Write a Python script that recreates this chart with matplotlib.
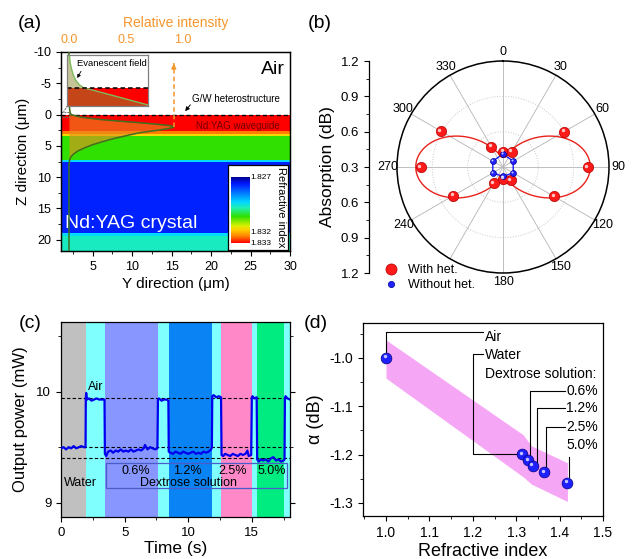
import numpy as np
import matplotlib
matplotlib.use('Agg')
import matplotlib.pyplot as plt
from matplotlib.colors import LinearSegmentedColormap, Normalize
from matplotlib.patches import Rectangle
from matplotlib.lines import Line2D
from matplotlib.ticker import AutoMinorLocator
from matplotlib.transforms import offset_copy

plt.rcParams['font.family'] = ['Liberation Sans', 'DejaVu Sans']
plt.rcParams['xtick.direction'] = 'out'
plt.rcParams['ytick.direction'] = 'out'
plt.rcParams['axes.linewidth'] = 0.9
plt.rcParams['axes.unicode_minus'] = False

# ---------- (a) waveguide index profile + mode ----------
layer_edges = [0, 2.7, 3.1, 3.35, 7.3, 7.6, 19.0, 19.35, 21.8]
layer_index = [1.833, 1.8324, 1.8317, 1.8306, 1.8293, 1.8277, 1.8293, 1.8297]
y_range = [1, 30]
mode_z = [-10, -3, -1, -0.3, 0, 0.4, 0.8, 1.2, 1.5, 1.8, 2.0, 2.2, 2.5, 2.9,
          3.3, 3.8, 4.3, 4.8, 5.3, 5.8, 6.3, 6.8, 7.3, 8.0, 21.8]
mode_I = [0, 0, 0.005, 0.01, 0.02, 0.10, 0.28, 0.55, 0.75, 0.90, 0.92, 0.88, 0.78, 0.62,
          0.52, 0.40, 0.30, 0.21, 0.14, 0.08, 0.04, 0.015, 0.005, 0, 0]
evan_z = [0.0, 0.1, 0.2, 0.3, 0.4, 0.5, 0.58, 0.64, 0.8, 0.98, 1.0]
evan_I = [0.03, 0.035, 0.045, 0.06, 0.08, 0.11, 0.15, 0.2, 0.58, 1.0, 1.0]
index_min, index_max = 1.827, 1.833
cbar_ticks = [1.827, 1.832, 1.833]

# ---------- (b) polar absorption ----------
angles_het = [0, 30, 60, 90, 120, 150, 180, 210, 240, 270, 300, 330]
absorb_het = [0.43, 0.45, 0.90, 1.02, 0.80, 0.43, 0.40, 0.46, 0.79, 1.00, 0.91, 0.50]
angles_bare = [0, 60, 120, 180, 240, 300]
absorb_bare = [0.41, 0.40, 0.40, 0.38, 0.40, 0.40]
r_lim = [0.3, 1.2]
r_ticks = [0.3, 0.6, 0.9, 1.2]

# ---------- (c) output power vs time ----------
band_edges = [0, 1.95, 3.45, 7.6, 8.5, 11.87, 12.6, 15.0, 15.42, 17.55, 18.0]
band_colors = ['#c0c0c0', '#80ffff', '#8896ff', '#80ffff', '#0a84f5',
               '#80ffff', '#ff88c8', '#80ffff', '#00eb80', '#80ffff']
t_trace = [0.0, 0.2, 0.4, 0.6, 0.8, 1.0, 1.2, 1.4, 1.6, 1.8, 1.93,
           1.95, 1.98, 2.05, 2.2, 2.4, 2.6, 2.8, 3.0, 3.2, 3.42,
           3.45, 3.55, 3.7, 3.9, 4.1, 4.3, 4.5, 4.7, 4.9, 5.1, 5.3, 5.5, 5.7, 5.9,
           6.1, 6.3, 6.5, 6.6, 6.8, 7.0, 7.2, 7.4, 7.58,
           7.62, 7.7, 7.9, 8.1, 8.3, 8.44,
           8.47, 8.6, 8.8, 9.0, 9.2, 9.4, 9.6, 9.8, 10.0, 10.2, 10.4, 10.6, 10.8,
           11.0, 11.2, 11.4, 11.6, 11.8, 11.86,
           11.89, 12.0, 12.2, 12.4, 12.58,
           12.62, 12.75, 12.9, 13.1, 13.3, 13.5, 13.7, 13.9, 14.1, 14.3, 14.5, 14.65, 14.75, 14.95,
           15.0, 15.05, 15.2, 15.38,
           15.42, 15.55, 15.7, 15.9, 16.1, 16.3, 16.5, 16.7, 16.9, 17.1, 17.3, 17.5, 17.57,
           17.6, 17.65, 17.8, 18.0]
p_trace = [9.49, 9.50, 9.48, 9.50, 9.49, 9.51, 9.49, 9.50, 9.51, 9.50, 9.50,
           9.95, 9.99, 9.93, 9.94, 9.92, 9.93, 9.94, 9.93, 9.93, 9.93,
           9.44, 9.42, 9.46, 9.47, 9.45, 9.47, 9.46, 9.48, 9.46, 9.47, 9.46, 9.48, 9.46, 9.47,
           9.48, 9.47, 9.49, 9.52, 9.48, 9.50, 9.49, 9.48, 9.49,
           9.93, 9.94, 9.92, 9.93, 9.93, 9.92,
           9.46, 9.45, 9.44, 9.46, 9.45, 9.44, 9.46, 9.45, 9.44, 9.45, 9.46, 9.44, 9.45,
           9.44, 9.46, 9.45, 9.46, 9.48, 9.50,
           9.96, 9.97, 9.95, 9.96, 9.95,
           9.43, 9.42, 9.44, 9.43, 9.42, 9.44, 9.43, 9.42, 9.44, 9.43, 9.44, 9.47, 9.42, 9.43,
           9.95, 9.96, 9.94, 9.95,
           9.39, 9.37, 9.39, 9.38, 9.39, 9.37, 9.40, 9.41, 9.38, 9.39, 9.37, 9.38, 9.39,
           9.94, 9.96, 9.94, 9.93]
ref_levels = [9.94, 9.50, 9.40]
conc_labels = ['0.6%', '1.2%', '2.5%', '5.0%']
conc_t = [5.9, 9.9, 13.5, 16.6]

# ---------- (d) alpha vs refractive index ----------
n_vals = [1.0, 1.314, 1.327, 1.338, 1.365, 1.418]
alpha_vals = [-1.0, -1.199, -1.211, -1.223, -1.237, -1.258]
band_n = [1.0, 1.316, 1.335, 1.418]
band_hi = [-0.963, -1.159, -1.182, -1.217]
band_lo = [-1.042, -1.246, -1.261, -1.297]

fig = plt.figure(figsize=(6.35, 5.59), dpi=100)
W, H = 635.0, 559.0


def px_axes(l, t, r, b, **kw):
    return fig.add_axes([l / W, 1 - b / H, (r - l) / W, (b - t) / H], **kw)


def balls(ax, x, y, color, edge, s, hs, off=1.0, **kw):
    ax.scatter(x, y, s=s, c=color, edgecolors=edge, linewidths=0.5, zorder=5, clip_on=False, **kw)
    tr = offset_copy(ax.transData, fig=fig, x=-off, y=off, units='points')
    ax.scatter(x, y, s=hs, c='white', alpha=0.75, linewidths=0, transform=tr, zorder=6, clip_on=False)


cmap = LinearSegmentedColormap.from_list('ri', [
    (0.0, '#000090'), (0.1, '#0018ff'), (0.38, '#00d8ff'), (0.47, '#20f0b0'),
    (0.6, '#30e000'), (0.74, '#d8f000'), (0.8, '#ffd000'), (0.9, '#ff8000'),
    (1.0, '#ff0000')])
norm = Normalize(index_min, index_max)

# ===== panel (a) =====
ax_a = px_axes(61, 52, 290, 251)
vals = np.array(layer_index).reshape(-1, 1)
ax_a.pcolormesh(y_range, layer_edges, vals, cmap=cmap, norm=norm, shading='flat')
ax_a.set_xlim(1, 30)
ax_a.set_ylim(21.8, -10)
ax_a.set_xticks([5, 10, 15, 20, 25, 30])
ax_a.set_yticks([-10, -5, 0, 5, 10, 15, 20])
ax_a.xaxis.set_minor_locator(AutoMinorLocator(2))
ax_a.yaxis.set_minor_locator(AutoMinorLocator(2))
ax_a.tick_params(labelsize=9, length=3.5)
ax_a.tick_params(which='minor', length=2)
ax_a.set_xlabel('Y direction (\u03bcm)', fontsize=11, labelpad=3)
ax_a.set_ylabel('Z direction (\u03bcm)', fontsize=11, labelpad=2)
ax_a.axhline(0, color='black', ls=(0, (3, 2)), lw=1.0, zorder=4)
ax_a.text(29.4, -7.2, 'Air', fontsize=14, ha='right', va='center')
ax_a.text(23.2, -2.5, 'G/W heterostructure', fontsize=7, ha='center', va='center')
ax_a.annotate('', xy=(16.5, -0.2), xytext=(17.6, -1.9),
              arrowprops=dict(arrowstyle='-|>', color='black', lw=0.7, mutation_scale=6))
ax_a.text(23.4, 1.75, 'Nd:YAG waveguide', fontsize=7, ha='center', va='center', color='#700000', zorder=6)
ax_a.text(1.5, 17.4, 'Nd:YAG crystal', fontsize=14, color='white', ha='left', va='center')
ax_a.add_patch(Rectangle((1.05, -0.35), 0.9, 0.7, fill=False, ec='#707070', ls=(0, (2, 1)), lw=0.7, zorder=6))
ax_a.plot([1.3, 1.8], [-0.35, -1.4], color='#707070', ls=(0, (2, 1)), lw=0.7, zorder=6)

ax_t = ax_a.twiny()
ax_t.set_xlim(-0.07, 1.94)
ax_t.fill_betweenx(mode_z, 0, mode_I, color='#e98c23', alpha=0.62, lw=0, zorder=2)
ax_t.plot(mode_I, mode_z, color='#3f6f1e', lw=1.1, zorder=3)
peak = max(mode_I)
peak_z = mode_z[mode_I.index(peak)]
ax_t.plot([peak, peak], [peak_z, -8.0], color='#f5962a', ls=(0, (3, 2)), lw=1.1, zorder=3)
ax_t.annotate('', xy=(peak, -8.6), xytext=(peak, -7.6),
              arrowprops=dict(arrowstyle='-|>', color='#f5962a', lw=1.0, mutation_scale=7))
ax_t.set_xticks([0.0, 0.5, 1.0])
ax_t.set_xticklabels(['0.0', '0.5', '1.0'])
ax_t.tick_params(axis='x', colors='#f5962a', labelsize=9, length=0, pad=4)
ax_t.set_xlabel('Relative intensity', fontsize=10, color='#f5962a', labelpad=5)
ax_t.spines['top'].set_color('black')

# inset
ax_in = px_axes(67, 55, 148, 106)
ax_in.axhspan(0.64, 1.0, color='#ff0000', lw=0)
ax_in.fill_betweenx(evan_z, 0, evan_I, color='#8a8a30', alpha=0.5, lw=0)
ax_in.plot(evan_I, evan_z, color='#7cbc5a', lw=1.0)
ax_in.axhline(0.64, color='black', ls=(0, (3, 2)), lw=1.1)
ax_in.set_xlim(0, 1)
ax_in.set_ylim(1, 0)
ax_in.set_xticks([])
ax_in.set_yticks([])
for s in ax_in.spines.values():
    s.set_color('#808080')
    s.set_linewidth(0.9)
ax_in.text(0.56, 0.84, 'Evanescent field', fontsize=6.8, ha='center', va='center', transform=ax_in.transAxes)
ax_in.annotate('', xy=(0.11, 0.5), xytext=(0.19, 0.27),
               arrowprops=dict(arrowstyle='-|>', color='black', lw=0.6, mutation_scale=5))

# colour bar box
ax_cb_box = px_axes(228, 165, 288, 250)
ax_cb_box.set_xticks([])
ax_cb_box.set_yticks([])
ax_cb_box.set_facecolor('white')
ax_cb = px_axes(231, 177, 249, 243)
grad = np.linspace(index_min, index_max, 256).reshape(-1, 1)
ax_cb.imshow(grad, cmap=cmap, norm=norm, aspect='auto',
             extent=[0, 1, index_max, index_min])
ax_cb.set_ylim(index_max, index_min)
ax_cb.set_xticks([])
ax_cb.set_yticks(cbar_ticks)
ax_cb.set_yticklabels(['%.3f' % v for v in cbar_ticks])
ax_cb.yaxis.tick_right()
ax_cb.tick_params(axis='y', labelsize=6, length=0, pad=1)
for s in ax_cb.spines.values():
    s.set_visible(False)
fig.text(281 / W, 1 - 207 / H, 'Refractive index', rotation=270, fontsize=8, ha='center', va='center')

# ===== panel (b) =====
ax_b = px_axes(397, 61, 609, 273, projection='polar')
ax_b.set_theta_zero_location('N')
ax_b.set_theta_direction(-1)
th_fit = np.radians(np.linspace(0, 360, 361))
th_h = np.radians(angles_het)
A = np.column_stack([np.ones_like(th_h), np.sin(th_h) ** 2, np.sin(th_h) ** 4])
coef = np.linalg.lstsq(A, np.array(absorb_het), rcond=None)[0]
r_fit = coef[0] + coef[1] * np.sin(th_fit) ** 2 + coef[2] * np.sin(th_fit) ** 4
ax_b.plot(th_fit, r_fit, color='#e8221c', lw=1.0, zorder=3)
th_b = np.radians(angles_bare + angles_bare[:1])
ax_b.plot(th_b, absorb_bare + absorb_bare[:1], color='#1a1aff', lw=1.0, zorder=3)
balls(ax_b, th_h, absorb_het, '#ff1a1a', '#b00000', 55, 6)
balls(ax_b, np.radians(angles_bare), absorb_bare, '#2222ff', '#000090', 18, 2, off=0.6)
ax_b.set_rmin(r_lim[0])
ax_b.set_rmax(r_lim[1])
ax_b.set_rgrids([0.6, 0.9], labels=['', ''])
theta_labels = [str(a) if a != 210 else '' for a in range(0, 360, 30)]
ax_b.set_thetagrids(range(0, 360, 30), labels=theta_labels)
ax_b.tick_params(axis='x', labelsize=9, pad=-4)
ax_b.xaxis.grid(True, color='#b4b4b4', lw=0.6, ls='-')
ax_b.yaxis.grid(True, color='#c8c8c8', lw=0.7, ls=':')
ax_b.spines['polar'].set_linewidth(1.1)

ax_bl = px_axes(369, 61, 369.5, 273)
span = r_lim[1] - r_lim[0]
ax_bl.set_ylim(-span, span)
pos = [-(r - r_lim[0]) for r in r_ticks[::-1]] + [r - r_lim[0] for r in r_ticks[1:]]
labs = ['%.1f' % r for r in r_ticks[::-1]] + ['%.1f' % r for r in r_ticks[1:]]
ax_bl.set_yticks(pos)
ax_bl.set_yticklabels(labs[::-1])
ax_bl.yaxis.set_minor_locator(AutoMinorLocator(2))
ax_bl.tick_params(labelsize=9.5, length=3.5)
ax_bl.tick_params(which='minor', length=2)
ax_bl.set_xticks([])
for k in ['top', 'right', 'bottom']:
    ax_bl.spines[k].set_visible(False)
ax_bl.patch.set_visible(False)
ax_bl.set_ylabel('Absorption (dB)', fontsize=12.5, labelpad=4)

h1 = Line2D([], [], ls='none', marker='o', ms=8, mfc='#ff1a1a', mec='#b00000', mew=0.5)
h2 = Line2D([], [], ls='none', marker='o', ms=4.5, mfc='#2222ff', mec='#000090', mew=0.5)
fig.legend([h1, h2], ['With het.', 'Without het.'], loc='upper left',
           bbox_to_anchor=(377 / W, 1 - 259 / H), frameon=False, fontsize=9,
           handletextpad=0.6, labelspacing=0.25, borderaxespad=0, handlelength=1.5)

# ===== panel (c) =====
ax_c = px_axes(61, 322, 290, 517)
for i, col in enumerate(band_colors):
    ax_c.axvspan(band_edges[i], band_edges[i + 1], color=col, lw=0, zorder=0)
for lv in ref_levels:
    ax_c.axhline(lv, color='black', ls=(0, (3, 2)), lw=0.8, zorder=2)
ax_c.plot(t_trace, p_trace, color='#0000ee', lw=1.6, zorder=3)
ax_c.set_xlim(0, 18)
ax_c.set_ylim(8.87, 10.63)
ax_c.set_xticks([0, 5, 10, 15])
ax_c.set_yticks([9, 10])
ax_c.xaxis.set_minor_locator(AutoMinorLocator(2))
ax_c.yaxis.set_minor_locator(AutoMinorLocator(2))
ax_c.tick_params(labelsize=9.5, length=3.5)
ax_c.tick_params(which='minor', length=2)
ax_c.tick_params(axis='y', which='both', right=True)
ax_c.set_xlabel('Time (s)', fontsize=12.5, labelpad=2)
ax_c.set_ylabel('Output power (mW)', fontsize=12, labelpad=6)
ax_c.text(2.1, 10.04, 'Air', fontsize=9, ha='left', va='center')
ax_c.text(0.2, 9.175, 'Water', fontsize=9, ha='left', va='center')
ax_c.add_patch(Rectangle((3.55, 9.13), 14.25, 0.23, fill=False, ec='#4a5cc8', lw=0.9, zorder=4))
for lab, tx in zip(conc_labels, conc_t):
    ax_c.text(tx, 9.285, lab, fontsize=9, ha='center', va='center', zorder=5)
ax_c.text(10.0, 9.175, 'Dextrose solution', fontsize=9, ha='center', va='center', zorder=5)

# ===== panel (d) =====
ax_d = px_axes(363, 323, 603, 516)
ax_d.fill_between(band_n, band_lo, band_hi, color='#f5a6f5', lw=0, zorder=1)
balls(ax_d, n_vals, alpha_vals, '#2020ff', '#000080', 60, 6)
ax_d.set_xlim(0.947, 1.5)
ax_d.set_ylim(-1.327, -0.928)
ax_d.set_xticks([1.0, 1.1, 1.2, 1.3, 1.4, 1.5])
ax_d.set_yticks([-1.0, -1.1, -1.2, -1.3])
ax_d.xaxis.set_minor_locator(AutoMinorLocator(2))
ax_d.yaxis.set_minor_locator(AutoMinorLocator(2))
ax_d.tick_params(labelsize=10, length=3.5)
ax_d.tick_params(which='minor', length=2)
ax_d.set_xlabel('Refractive index', fontsize=13, labelpad=2)
ax_d.set_ylabel('\u03b1 (dB)', fontsize=13, labelpad=4)

lk = dict(color='black', lw=0.8, zorder=3)
tx0 = 1.228
ax_d.plot([n_vals[0], n_vals[0], 1.224], [alpha_vals[0] + 0.012, -0.946, -0.946], **lk)
ax_d.plot([1.224, 1.2, 1.2, n_vals[1] - 0.006], [-0.992, -0.992, alpha_vals[1], alpha_vals[1]], **lk)
ax_d.text(tx0, -0.957, 'Air', fontsize=10, va='center')
ax_d.text(tx0, -0.995, 'Water', fontsize=10, va='center')
ax_d.text(tx0, -1.033, 'Dextrose solution:', fontsize=10, va='center')
lead_dx = [0.005, 0.011, 0.003]
lab_y = [-1.069, -1.104, -1.142]
for k in range(3):
    xi = n_vals[k + 2] + lead_dx[k]
    ax_d.plot([xi, xi, 1.413], [alpha_vals[k + 2] + 0.008, lab_y[k], lab_y[k]], **lk)
    ax_d.text(1.415, lab_y[k], conc_labels[k], fontsize=10, va='center')
ax_d.text(1.415, -1.180, conc_labels[3], fontsize=10, va='center')
ax_d.plot([n_vals[5] + 0.004, n_vals[5] + 0.004], [-1.204, alpha_vals[5] + 0.012], **lk)

# panel labels
for lab, x, y in [('(a)', 30, 23), ('(b)', 320, 23), ('(c)', 30, 323), ('(d)', 316, 323)]:
    fig.text(x / W, 1 - y / H, lab, fontsize=14, ha='center', va='center')

fig.savefig('out.png', dpi=100)
